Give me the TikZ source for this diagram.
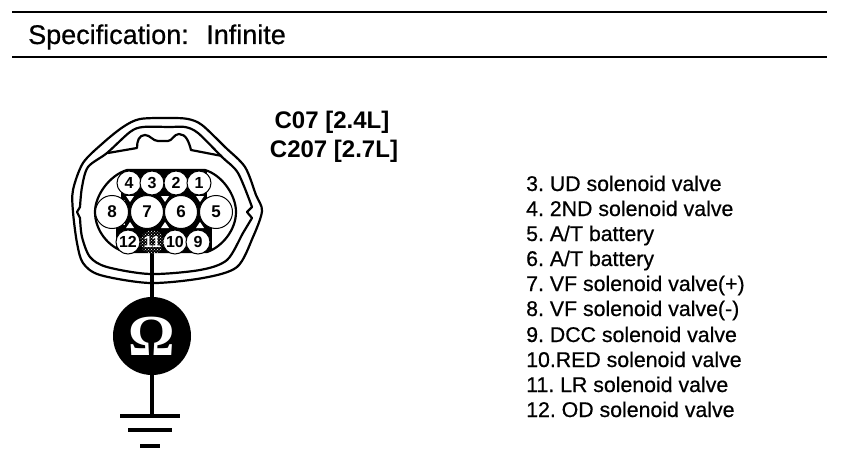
\documentclass[tikz,border=0pt]{standalone}
\usepackage{fontspec}
\setmainfont{Liberation Sans}
\newfontfamily\heavy{Liberation Sans}[FakeBold=0.6]
\newfontfamily\omegafont{Liberation Serif}
\usetikzlibrary{patterns}
\frenchspacing
\tikzset{
  rulebar/.style={line width=1.8pt,black},
  bodyline/.style={line width=2.2pt,black,line join=round},
  bigpin/.style={circle,draw=black,fill=white,line width=1pt,minimum size=33pt,inner sep=0pt,font=\bfseries\fontsize{17}{17}\selectfont},
  smallpin/.style={circle,draw=black,fill=white,line width=1pt,minimum size=24pt,inner sep=0pt,font=\bfseries\fontsize{16}{16}\selectfont},
  hatchpin/.style={circle,pattern=crosshatch dots,pattern color=white,minimum size=24pt,inner sep=0pt,text=white,font=\bfseries\fontsize{16}{16}\selectfont},
  wire/.style={line width=4pt,black},
  listitem/.style={anchor=base west,inner sep=0pt,font=\heavy\fontsize{21.3}{22}\selectfont},
  caption/.style={inner sep=0pt,font=\bfseries\fontsize{24}{24}\selectfont},
  meter/.style={circle,fill=black,minimum size=78pt,inner sep=0pt,text=white,font=\omegafont\bfseries\fontsize{58}{58}\selectfont},
  fieldshape/.style={insert path={(127,170) -- (205,170)
    .. controls (222,175) and (236,195) .. (236,212)
    .. controls (236,230) and (222,247) .. (207,252)
    -- (125,252)
    .. controls (108,247) and (95,230) .. (95,212)
    .. controls (95,195) and (110,175) .. (127,170) -- cycle}},
}
\begin{document}
\begin{tikzpicture}[x=1pt,y=-1pt]
\useasboundingbox (0,0) rectangle (864,476);
% header
\coordinate (ra) at (12,12); \coordinate (rb) at (827,12);
\coordinate (rc) at (12,57); \coordinate (rd) at (827,57);
\draw[rulebar] (ra) -- (rb);
\draw[rulebar] (rc) -- (rd);
\node[anchor=base west,inner sep=0pt,font=\heavy\fontsize{27}{28}\selectfont] (spec) at (28,44) {Specification:\hspace{0.65em}Infinite};
% outer contour
\draw[bodyline] plot[smooth cycle,tension=0.5] coordinates {
 (73,212) (73,190) (83,163) (103,143) (123,127) (140,119) (170,118) (188,119) (202,125)
 (225,147) (245,167) (256,195) (262,211) (253,237) (237,267) (203,278) (150,283)
 (100,275) (83,263) (77,243)};
% second contour with side notches
\draw[bodyline] (77,212)
  -- plot[smooth,tension=0.5] coordinates {(80,207) (82,187) (88,167) (107,153) (130,132) (143,127) (170,127) (185,127) (198,133) (222,157) (238,173) (252,207)}
  -- (247,212)
  -- plot[smooth,tension=0.5] coordinates {(252,218) (243,233) (227,260) (200,270) (150,274) (107,267) (90,257) (82,237) (80,218)}
  -- cycle;
% tab
\draw[bodyline] (108,153) -- (137,148) .. controls (137,141) and (139,135) .. (145,135)
  .. controls (150,135) and (153,141) .. (158,141) -- (168,141)
  .. controls (172,141) and (174,134) .. (179,134)
  .. controls (186,134) and (189,142) .. (191,150) -- (222,156);
% pin field
\path[fill=white,draw=black,line width=2.2pt,fieldshape];
\begin{scope}
\clip[fieldshape];
\fill[black] (121,170) rectangle (207,200);
\fill[black] (116,225) rectangle (212,252);
\fill[black] (125,200) rectangle (205,225);
\end{scope}
\fill[white] (126,228) -- (134,228) -- (130,222) -- cycle;
\fill[white] (161,228) -- (169,228) -- (165,222) -- cycle;
\fill[white] (196,228) -- (204,228) -- (200,222) -- cycle;
\fill[white] (126,196) -- (134,196) -- (130,202) -- cycle;
\fill[white] (161,196) -- (169,196) -- (165,202) -- cycle;
\fill[white] (196,196) -- (204,196) -- (200,202) -- cycle;
% pins
\node[smallpin] (p4) at (129,183) {4};
\node[smallpin] (p3) at (152,183) {3};
\node[smallpin] (p2) at (176,183) {2};
\node[smallpin] (p1) at (199,183) {1};
\node[bigpin] (p8) at (112,212) {8};
\node[bigpin] (p7) at (147,212) {7};
\node[bigpin] (p6) at (181,212) {6};
\node[bigpin] (p5) at (216,212) {5};
\node[smallpin] (p12) at (128,242) {12};
\node[smallpin] (p10) at (175,242) {10};
\node[smallpin] (p9) at (198,242) {9};
% meter and ground
\node[meter] (ohm) at (152,336) {Ω};
\coordinate (w1) at (152,252);
\coordinate (gnd) at (152,416);
\coordinate (g1a) at (120,416); \coordinate (g1b) at (180,416);
\coordinate (g2a) at (128,430); \coordinate (g2b) at (172,430);
\coordinate (g3a) at (140,446); \coordinate (g3b) at (160,446);
\draw[wire] (w1) -- (ohm);
\draw[wire] (ohm) -- (gnd);
\draw[wire] (g1a) -- (g1b);
\draw[wire] (g2a) -- (g2b);
\draw[wire] (g3a) -- (g3b);
\node[hatchpin] (p11) at (152,242) {11};
% captions
\node[caption] (c1) at (332,122) {C07 [2.4L]};
\node[caption] (c2) at (334,151) {C207 [2.7L]};
% list
\node[listitem] (l3) at (526,191) {3. UD solenoid valve};
\node[listitem] (l4) at (526,216) {4. 2ND solenoid valve};
\node[listitem] (l5) at (526,241) {5. A/T battery};
\node[listitem] (l6) at (526,266) {6. A/T battery};
\node[listitem] (l7) at (526,291) {7. VF solenoid valve(+)};
\node[listitem] (l8) at (526,316) {8. VF solenoid valve(-)};
\node[listitem] (l9) at (526,342) {9. DCC solenoid valve};
\node[listitem] (l10) at (526,367) {10.RED solenoid valve};
\node[listitem] (l11) at (526,392) {11. LR solenoid valve};
\node[listitem] (l12) at (526,417) {12. OD solenoid valve};
\end{tikzpicture}
\end{document}
